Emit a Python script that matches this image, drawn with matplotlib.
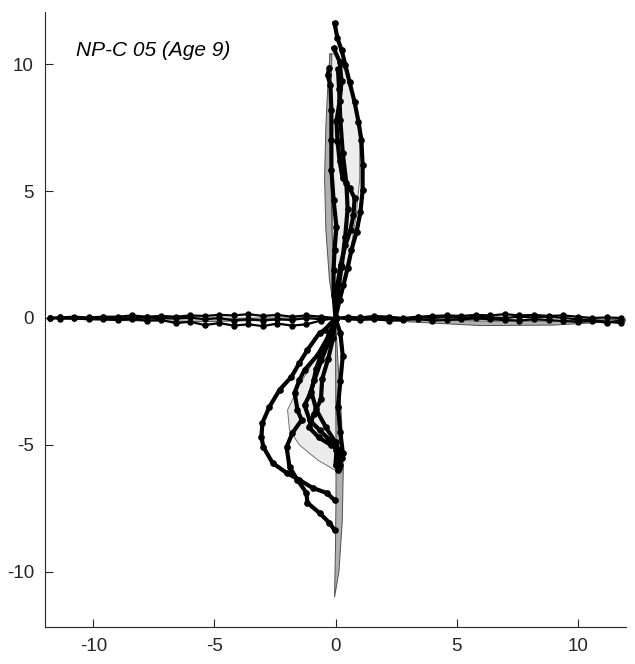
import matplotlib
matplotlib.use("Agg")
import matplotlib.pyplot as plt

plt.rcParams["font.family"] = ["Liberation Sans", "DejaVu Sans"]
plt.rcParams["axes.unicode_minus"] = False

label = "NP-C 05 (Age 9)"
ticks = [-10, -5, 0, 5, 10]

# upward saccade traces (deg)
up1_x = [0, 0.17, 0.33, 0.50, 0.66, 0.87, 1.03, 1.12, 1.12, 1.07, 0.95, 0.79, 0.58, 0.41, 0.25, 0.08, -0.04]
up1_y = [0, 0.71, 1.30, 1.97, 2.68, 3.39, 4.17, 5.04, 6.02, 7.01, 7.72, 8.50, 9.29, 9.96, 10.55, 11.02, 11.61]
up2_x = [0, 0.04, 0.08, 0.21, 0.41, 0.62, 0.74, 0.79, 0.58, 0.29, 0.17, 0.08, 0.04, 0.17, 0.25, 0.17, -0.08]
up2_y = [0, 0.71, 1.30, 2.09, 2.87, 3.46, 4.06, 4.72, 5.12, 5.51, 6.18, 6.97, 7.76, 8.54, 9.33, 10.10, 10.63]
up3_x = [0, -0.08, -0.08, -0.04, 0.04, -0.08, -0.17, -0.17, -0.17, -0.21, -0.33, -0.25]
up3_y = [0, 0.91, 1.89, 2.68, 3.58, 4.65, 5.83, 7.01, 8.19, 9.17, 9.57, 9.84]
up4_x = [0, 0.10, 0.25, 0.40, 0.50, 0.45, 0.30, 0.20, 0.15, 0.10]
up4_y = [0, 1.0, 2.0, 3.2, 4.3, 5.3, 6.5, 7.8, 9.0, 9.8]

# downward saccade traces
dn1_x = [0, -0.45, -0.66, -1.16, -1.49, -1.82, -2.31, -2.73, -3.02, -3.06, -2.98, -2.60, -2.02, -1.49, -0.95, -0.37, -0.04]
dn1_y = [0, -0.47, -0.59, -1.26, -1.77, -2.32, -2.83, -3.50, -4.13, -4.69, -5.08, -5.71, -6.10, -6.38, -6.69, -6.89, -7.17]
dn2_x = [0, -0.25, -0.74, -1.28, -1.49, -1.69, -1.57, -1.40, -1.78, -2.02, -1.90, -1.57, -1.20, -1.16, -0.66, -0.25, -0.04]
dn2_y = [0, -0.67, -1.46, -2.05, -2.44, -2.95, -3.62, -4.02, -4.53, -5.08, -5.87, -6.38, -6.89, -7.28, -7.68, -8.07, -8.35]
dn3_x = [0, -0.25, -0.58, -0.87, -1.07, -1.28, -1.07, -0.66, -0.25, 0.04, 0.0]
dn3_y = [0, -0.87, -1.65, -2.44, -3.03, -3.43, -4.02, -4.41, -4.80, -5.20, -5.79]
dn4_x = [0, -0.10, -0.30, -0.55, -0.60, -0.90, -1.10, -0.70, -0.20, 0.20, 0.15]
dn4_y = [0, -0.8, -1.6, -2.4, -3.2, -3.8, -4.3, -4.7, -5.0, -5.2, -5.9]
dn5_x = [0, -0.20, -0.50, -0.80, -1.00, -0.80, -0.40, 0.0, 0.25, 0.10]
dn5_y = [0, -0.5, -1.2, -2.0, -2.9, -3.6, -4.3, -4.9, -5.5, -6.0]
dn6_x = [0, 0.20, 0.30, 0.20, 0.10, 0.20, 0.30, 0.20]
dn6_y = [0, -0.6, -1.5, -2.5, -3.5, -4.5, -5.3, -5.8]

# rightward saccade traces
rt_x = [0, 0.5, 1.0, 1.6, 2.2, 2.8, 3.4, 4.0, 4.6, 5.2, 5.8, 6.4, 7.0, 7.6, 8.2, 8.8, 9.4, 10.0, 10.6, 11.2, 11.8]
rt1_y = [0, 0.05, 0.02, 0.08, 0.05, 0.0, 0.05, 0.08, 0.10, 0.08, 0.12, 0.10, 0.15, 0.10, 0.12, 0.08, 0.10, 0.05, 0.0, 0.02, 0.0]
rt2_y = [0, -0.05, -0.08, -0.05, -0.10, -0.08, -0.05, -0.10, -0.08, -0.05, -0.02, -0.05, -0.08, -0.10, -0.05, -0.08, -0.12, -0.15, -0.12, -0.18, -0.10]
rt3_y = [0, 0.0, -0.02, 0.02, 0.0, -0.03, 0.02, 0.0, 0.03, 0.0, 0.05, 0.02, 0.0, 0.05, 0.02, 0.05, 0.0, -0.05, -0.08, -0.15, -0.20]

# leftward saccade traces
lt_x = [0, -0.6, -1.2, -1.8, -2.4, -3.0, -3.6, -4.2, -4.8, -5.4, -6.0, -6.6, -7.2, -7.8, -8.4, -9.0, -9.6, -10.2, -10.8, -11.4, -11.8]
lt1_y = [0, 0.05, 0.10, 0.05, 0.12, 0.08, 0.15, 0.10, 0.12, 0.08, 0.10, 0.05, 0.08, 0.05, 0.10, 0.05, 0.05, 0.02, 0.05, 0.02, 0.0]
lt2_y = [0, -0.10, -0.25, -0.30, -0.22, -0.32, -0.25, -0.30, -0.20, -0.28, -0.15, -0.20, -0.08, -0.10, -0.05, -0.08, -0.05, -0.05, -0.02, -0.03, 0.0]
lt3_y = [0, -0.05, 0.0, -0.08, -0.05, -0.10, -0.05, -0.10, 0.0, -0.05, 0.02, -0.02, 0.0, 0.02, 0.0, -0.02, 0.02, 0.0, 0.0, 0.02, 0.0]

# model envelopes
env_up_x = [0, 0.3, 0.6, 0.85, 1.0, 1.0, 0.8, 0.4, 0.1, -0.25, -0.25, -0.2, -0.15, -0.1, 0]
env_up_y = [0, 1.0, 2.5, 4.0, 5.5, 7.0, 8.5, 9.7, 10.4, 10.4, 9.0, 7.0, 5.0, 3.0, 0]
lens_up_x = [0, -0.25, -0.4, -0.45, -0.4, -0.3, -0.22, -0.15, -0.2, -0.2, -0.15, -0.05, 0]
lens_up_y = [0, 1.5, 3.5, 5.5, 7.5, 9.5, 10.4, 10.4, 8.5, 6.0, 3.5, 1.5, 0]
env_dn_x = [0, -0.25, -0.87, -1.49, -1.98, -1.90, -1.49, -0.74, -0.04, 0.05, 0.10, 0.05, 0.02, 0]
env_dn_y = [0, -0.47, -1.65, -2.64, -3.62, -4.41, -5.0, -5.59, -5.98, -5.9, -4.5, -3.0, -1.5, 0]
lens_dn_x = [0, 0.12, 0.25, 0.32, 0.28, 0.14, -0.04, 0.0, 0.02, 0.02, 0.01, 0]
lens_dn_y = [0, -2.0, -4.0, -6.0, -8.0, -10.0, -11.0, -9.0, -7.0, -5.0, -3.0, 0]
lens_rt_x = [0, 3, 6, 9, 12, 12, 9, 6, 3, 0]
lens_rt_y = [0, -0.15, -0.30, -0.28, -0.12, -0.05, -0.12, -0.12, -0.05, 0]
lens_lt_x = [0, -3, -6, -9, -11.8, -11.8, -9, -6, -3, 0]
lens_lt_y = [0, -0.10, -0.15, -0.10, -0.02, 0.02, 0.0, -0.02, 0.0, 0]

fig = plt.figure(figsize=(6.35, 6.64), dpi=100)
ax = fig.add_axes([45 / 635, 1 - 627 / 664, 581 / 635, 615 / 664])

light = dict(facecolor="#ececec", edgecolor="#707070", linewidth=0.7, zorder=1)
dark = dict(facecolor="#b0b0b0", edgecolor="#505050", linewidth=0.7, zorder=2)
ax.fill(env_up_x, env_up_y, **light)
ax.fill(env_dn_x, env_dn_y, **light)
ax.fill(lens_up_x, lens_up_y, **dark)
ax.fill(lens_dn_x, lens_dn_y, **dark)
ax.fill(lens_rt_x, lens_rt_y, **dark)
ax.fill(lens_lt_x, lens_lt_y, **dark)

vstyle = dict(color="black", linewidth=3.0, marker="o", markersize=3.8, zorder=5)
for xs, ys in [(up1_x, up1_y), (up2_x, up2_y), (up3_x, up3_y), (up4_x, up4_y),
               (dn1_x, dn1_y), (dn2_x, dn2_y), (dn3_x, dn3_y), (dn4_x, dn4_y),
               (dn5_x, dn5_y), (dn6_x, dn6_y)]:
    ax.plot(xs, ys, **vstyle)

hstyle = dict(color="black", linewidth=1.6, marker="o", markersize=3.6, zorder=5)
for ys in [rt1_y, rt2_y, rt3_y]:
    ax.plot(rt_x, ys, **hstyle)
for ys in [lt1_y, lt2_y, lt3_y]:
    ax.plot(lt_x, ys, **hstyle)

ax.text(-10.7, 10.55, label, fontsize=15, style="italic", va="center", ha="left")

ax.set_xlim(-12, 12)
ax.set_ylim(-12.17, 12.05)
ax.set_xticks(ticks)
ax.set_yticks(ticks)
ax.tick_params(direction="in", length=6, labelsize=13.5, colors="#262626", pad=8)
for s in ["top", "right"]:
    ax.spines[s].set_visible(False)
for s in ["left", "bottom"]:
    ax.spines[s].set_color("#262626")
    ax.spines[s].set_linewidth(0.8)

fig.savefig("out.png", dpi=100)
